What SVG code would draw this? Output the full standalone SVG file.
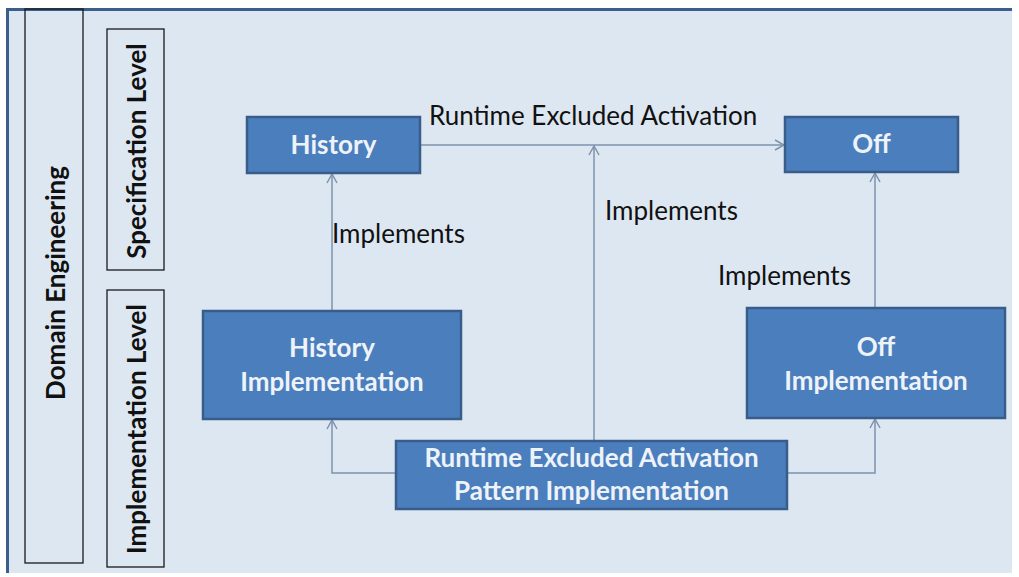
<svg xmlns="http://www.w3.org/2000/svg" width="1019" height="577" viewBox="0 0 1019 577">
  <style>
    .frame { fill: #dde7f2; }
    .edge { stroke: #3b5f8c; stroke-width: 3; fill: none; }
    .lane { fill: none; stroke: #1a1a1a; stroke-width: 1.3; }
    .lane-label { font-family: Lato, "Liberation Sans", sans-serif; font-weight: bold; font-size: 26px; fill: #111; }
    .box { fill: #4b7ebd; stroke: #385d8a; stroke-width: 2.5; }
    .box-label { font-family: Lato, "Liberation Sans", sans-serif; font-weight: bold; font-size: 26px; fill: #eef3f9; text-anchor: middle; }
    .conn { fill: none; stroke: #7d93ad; stroke-width: 1.5; }
    .conn-label { font-family: Lato, "Liberation Sans", sans-serif; font-size: 26px; fill: #111; }
  </style>
  <defs>
    <marker id="arrow" markerWidth="14" markerHeight="14" refX="11" refY="7" orient="auto" markerUnits="userSpaceOnUse">
      <path d="M2,2 L11,7 L2,12" fill="none" stroke="#7d93ad" stroke-width="1.5"/>
    </marker>
  </defs>

  <!-- background panel -->
  <rect x="0" y="0" width="1019" height="577" fill="#ffffff"/>
  <rect class="frame" x="7" y="8" width="1005" height="565"/>
  <path class="edge" d="M7.5,573 L7.5,9.5 L1012,9.5"/>

  <!-- swimlane headers -->
  <g id="lane-domain">
    <rect class="lane" x="25" y="9" width="58" height="554"/>
    <text class="lane-label" transform="translate(55,283) rotate(-90)" text-anchor="middle" dominant-baseline="central">Domain Engineering</text>
  </g>
  <g id="lane-spec">
    <rect class="lane" x="107" y="29" width="57" height="241"/>
    <text class="lane-label" transform="translate(136,151) rotate(-90)" text-anchor="middle" dominant-baseline="central">Specification Level</text>
  </g>
  <g id="lane-impl">
    <rect class="lane" x="107" y="290" width="57" height="277"/>
    <text class="lane-label" transform="translate(136,429) rotate(-90)" text-anchor="middle" dominant-baseline="central">Implementation Level</text>
  </g>

  <!-- connectors -->
  <g id="connectors">
    <line class="conn" x1="332" y1="311" x2="332" y2="174" marker-end="url(#arrow)"/>
    <line class="conn" x1="420" y1="145" x2="784" y2="145" marker-end="url(#arrow)"/>
    <line class="conn" x1="594" y1="441" x2="594" y2="146" marker-end="url(#arrow)"/>
    <line class="conn" x1="875" y1="308" x2="875" y2="173" marker-end="url(#arrow)"/>
    <polyline class="conn" points="396,473 332,473 332,420" marker-end="url(#arrow)"/>
    <polyline class="conn" points="787,473 875,473 875,419" marker-end="url(#arrow)"/>
    <text class="conn-label" x="429" y="125">Runtime Excluded Activation</text>
    <text class="conn-label" x="332" y="243">Implements</text>
    <text class="conn-label" x="605" y="220">Implements</text>
    <text class="conn-label" x="718" y="285">Implements</text>
  </g>

  <!-- nodes -->
  <g id="history">
    <rect class="box" x="247" y="117" width="173" height="56"/>
    <text class="box-label" x="333.5" y="154">History</text>
  </g>
  <g id="off">
    <rect class="box" x="785" y="117" width="173" height="55"/>
    <text class="box-label" x="871.5" y="153">Off</text>
  </g>
  <g id="history-impl">
    <rect class="box" x="203" y="311" width="258" height="108"/>
    <text class="box-label" x="332" y="357">History</text>
    <text class="box-label" x="332" y="391">Implementation</text>
  </g>
  <g id="off-impl">
    <rect class="box" x="747" y="308" width="258" height="110"/>
    <text class="box-label" x="876" y="356">Off</text>
    <text class="box-label" x="876" y="390">Implementation</text>
  </g>
  <g id="rea-pattern-impl">
    <rect class="box" x="396" y="441" width="391" height="68"/>
    <text class="box-label" x="591.5" y="467">Runtime Excluded Activation</text>
    <text class="box-label" x="591.5" y="500">Pattern Implementation</text>
  </g>
</svg>
